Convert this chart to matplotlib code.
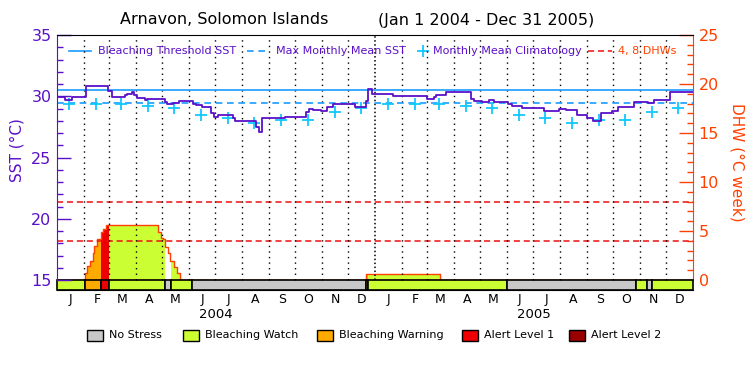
import numpy as np
import matplotlib
matplotlib.use('Agg')
import matplotlib.pyplot as plt
import matplotlib.dates as mdates
from matplotlib.lines import Line2D
from matplotlib.patches import Rectangle

# SST (step changes)
sst_dates = ['2004-01-01', '2004-01-10', '2004-01-18', '2004-02-03', '2004-02-29', '2004-03-04',
             '2004-03-19', '2004-03-22', '2004-03-27', '2004-03-30', '2004-04-02', '2004-04-11', '2004-04-14',
             '2004-05-04', '2004-05-07', '2004-05-13', '2004-05-20', '2004-06-05', '2004-06-09', '2004-06-16',
             '2004-06-26', '2004-06-29', '2004-07-04', '2004-07-21', '2004-07-24', '2004-08-17', '2004-08-20',
             '2004-08-24', '2004-09-04', '2004-09-19', '2004-10-06', '2004-10-13', '2004-10-17', '2004-10-21',
             '2004-10-31', '2004-11-06', '2004-11-13', '2004-12-08', '2004-12-21', '2004-12-23', '2004-12-28',
             '2005-01-21', '2005-03-01', '2005-03-09', '2005-03-12', '2005-03-23', '2005-04-21', '2005-04-24',
             '2005-05-03', '2005-05-12', '2005-05-17', '2005-06-02', '2005-06-07', '2005-06-19', '2005-07-14',
             '2005-07-31', '2005-08-08', '2005-08-21', '2005-09-01', '2005-09-08', '2005-09-17', '2005-09-30',
             '2005-10-07', '2005-10-25', '2005-11-10', '2005-11-17', '2005-12-06', '2006-01-01']
sst_vals = [29.96, 29.7, 29.96, 30.84, 30.4, 29.96,
            30.1, 30.2, 30.32, 30.1, 29.85, 29.7, 29.75,
            29.5, 29.34, 29.47, 29.59, 29.4, 29.3, 29.15,
            28.6, 28.33, 28.47, 28.2, 27.98, 27.5, 27.1,
            28.2, 28.25, 28.33, 28.28, 28.7, 29.0, 28.88,
            28.8, 29.1, 29.34, 29.15, 29.6, 30.57, 30.16,
            30.05, 29.75, 29.9, 30.1, 30.32, 29.8, 29.6,
            29.56, 29.7, 29.5, 29.35, 29.23, 29.07, 28.8,
            28.95, 28.88, 28.47, 28.2, 27.98, 28.6, 28.8,
            29.1, 29.56, 29.45, 29.7, 30.32, 30.32]

# monthly mean climatology (Jan..Dec), same both years
clim_vals = [29.4, 29.35, 29.4, 29.2, 29.05, 28.5, 28.2, 27.8, 28.05, 28.05, 28.75, 29.07]
mmm = 29.45
threshold = 30.5
dhw_levels = [4, 8]

# degree heating weeks
dhw_dates = ['2004-01-01', '2004-02-02', '2004-02-05', '2004-02-08', '2004-02-11', '2004-02-13', '2004-02-16',
             '2004-02-20', '2004-02-23', '2004-02-26', '2004-04-26', '2004-04-29', '2004-05-02', '2004-05-04',
             '2004-05-08', '2004-05-10', '2004-05-15', '2004-05-18', '2004-05-21', '2004-12-21', '2005-03-16']
dhw_vals = [0, 0.75, 1.46, 1.97, 2.72, 3.47, 4.15,
            4.86, 5.17, 5.61, 4.86, 4.3, 4.15, 3.4,
            2.72, 1.97, 1.36, 0.75, 0, 0.58, 0]

# stress level: 0 no stress, 1 watch, 2 warning, 3 alert 1, 4 alert 2
stress_dates = ['2004-01-01', '2004-02-02', '2004-02-20', '2004-03-01', '2004-05-04', '2004-05-11', '2004-06-04',
                '2004-12-21', '2004-12-24', '2005-06-01', '2005-10-27', '2005-11-09', '2005-11-15']
stress_levels = [1, 2, 3, 1, 0, 1, 0, 2, 1, 0, 1, 0, 1]
stress_names = ['No Stress', 'Bleaching Watch', 'Bleaching Warning', 'Alert Level 1', 'Alert Level 2']
bar_colors = ['#c8c8c8', '#ccff33', '#ffaa00', '#ee0000', '#990000']
area_colors = ['#ffffff', '#ccff33', '#ffaa00', '#ee0000', '#990000']

month_letters = ['J', 'F', 'M', 'A', 'M', 'J', 'J', 'A', 'S', 'O', 'N', 'D'] * 2

purple = '#5a10c8'
orange = '#ff4000'
blue = '#1a9cff'
cyan = '#10c8ff'
red = '#ee1010'


def dn(d):
    return mdates.date2num(np.array(d, dtype='datetime64[D]'))


def px(x, y):
    return x / 750, 1 - y / 375


x0, x1 = dn('2004-01-01'), dn('2006-01-01')
sst_bottom = 35 - 255 / 12.25
dhw_bottom = (sst_bottom - 15) / 0.8

fig = plt.figure(figsize=(7.5, 3.75), dpi=100)
ax = fig.add_axes([57 / 750, 1 - 290 / 375, 636 / 750, 255 / 375])
ax2 = ax.twinx()
ax.set_zorder(2)
ax.patch.set_visible(False)

# ---- DHW area and stress bar (right axis) ----
dhw_x = dn(dhw_dates)
st_x = dn(stress_dates)
brk = np.unique(np.concatenate([dhw_x, st_x, [x1]]))
v = np.array(dhw_vals)[np.searchsorted(dhw_x, brk, side='right') - 1]
lev = np.array(stress_levels)[np.searchsorted(st_x, brk, side='right') - 1]
for k, col in enumerate(area_colors):
    m = lev == k
    m_ext = m | np.r_[False, m[:-1]]
    if m.any():
        ax2.fill_between(brk, 0, v, where=m_ext, step='post', facecolor=col, lw=0, zorder=1)
ax2.fill_between(brk, 0, v, step='post', facecolor='none', edgecolor=orange, lw=1.0, zorder=2)
for d in dhw_levels:
    ax2.axhline(d, color=red, lw=1.1, dashes=(4, 2.5), zorder=3)
st_edges = np.r_[st_x, x1]
ax2.bar(st_x, -dhw_bottom, width=np.diff(st_edges), bottom=dhw_bottom, align='edge',
        color=[bar_colors[k] for k in stress_levels], edgecolor='k', lw=1.2, zorder=4, clip_on=False)
ax2.set_ylim(dhw_bottom, 25)
ax2.set_yticks(np.arange(0, 26, 5))
ax2.set_yticks(np.arange(0, 26, 1), minor=True)
ax2.tick_params(axis='y', which='both', direction='in', colors=orange, labelsize=11.5, pad=4)
ax2.tick_params(axis='y', which='major', length=10, width=1)
ax2.tick_params(axis='y', which='minor', length=4.5, width=1)
for s in ['left', 'top', 'bottom']:
    ax2.spines[s].set_visible(False)
ax2.spines['right'].set_bounds(0, 25)
ax2.spines['right'].set_color(orange)

# ---- SST (left axis) ----
month_starts = dn(np.arange('2004-02', '2006-01', dtype='datetime64[M]').astype('datetime64[D]'))
for m in month_starts:
    if m == dn('2005-01-01'):
        ax.vlines(m, 15, 35, colors='k', lw=1.1, linestyles=(0, (1, 1.6)), zorder=1)
    else:
        ax.vlines(m, 15, 35, colors='k', lw=1.0, linestyles=(0, (1, 3)), zorder=1)
ax.axhline(threshold, color=blue, lw=1.2, zorder=2)
ax.axhline(mmm, color=blue, lw=1.2, dashes=(4, 2.8), zorder=2)
clim_x = dn(np.arange('2004-01', '2006-01', dtype='datetime64[M]').astype('datetime64[D]')) + 14
ax.plot(clim_x, clim_vals * 2, ls='none', marker='+', ms=8, mew=1.3, color=cyan, zorder=3)
ax.step(dn(sst_dates), sst_vals, where='post', color=purple, lw=1.3, zorder=4)

ax.set_xlim(x0, x1)
ax.set_ylim(sst_bottom, 35)
ax.set_yticks(np.arange(15, 36, 5))
ax.set_yticks(np.arange(15, 36, 1), minor=True)
ax.tick_params(axis='y', which='both', direction='in', colors=purple, labelsize=11.5, pad=4)
ax.tick_params(axis='y', which='major', length=10, width=1)
ax.tick_params(axis='y', which='minor', length=4.5, width=1)
ax.spines['left'].set_bounds(15, 35)
ax.spines['left'].set_color(purple)
ax.spines['right'].set_visible(False)

mid_months = dn(np.arange('2004-01', '2006-01', dtype='datetime64[M]').astype('datetime64[D]')) + 15
ax.set_xticks(mid_months)
ax.set_xticklabels(month_letters)
ax.tick_params(axis='x', length=0, pad=2.5, labelsize=9)
for yr, mid in [('2004', '2004-07-02'), ('2005', '2005-07-02')]:
    ax.annotate(yr, xy=(dn(mid), 0), xycoords=('data', 'axes fraction'), xytext=(0, -18),
                textcoords='offset points', ha='center', va='center', fontsize=9.5)

# ---- titles and labels ----
fig.text(*px(120, 20), 'Arnavon, Solomon Islands', ha='left', va='center', fontsize=11.5)
fig.text(*px(378, 20), '(Jan 1 2004 - Dec 31 2005)', ha='left', va='center', fontsize=11.5)
fig.text(*px(17, 150), 'SST (°C)', rotation=90, ha='center', va='center', fontsize=11, color=purple)
fig.text(*px(737, 162), 'DHW (°C week)', rotation=-90, ha='center', va='center', fontsize=11, color=orange)

# ---- legend inside top ----
ly = px(0, 51)[1]
fig.add_artist(Line2D([69 / 750, 91 / 750], [ly, ly], color=blue, lw=1.2))
fig.text(98 / 750, ly, 'Bleaching Threshold SST', va='center', fontsize=8, color=purple)
fig.add_artist(Line2D([247 / 750, 265 / 750], [ly, ly], color=blue, lw=1.2, dashes=(4, 2.8)))
fig.text(276 / 750, ly, 'Max Monthly Mean SST', va='center', fontsize=8, color=purple)
fig.add_artist(Line2D([423 / 750], [ly], color=cyan, marker='+', ms=8, mew=1.3))
fig.text(433 / 750, ly, 'Monthly Mean Climatology', va='center', fontsize=8, color=purple)
fig.add_artist(Line2D([588 / 750, 612 / 750], [ly, ly], color=red, lw=1.1, dashes=(4, 2.5)))
fig.text(618 / 750, ly, '4, 8 DHWs', va='center', fontsize=8, color=orange)

# ---- stress legend at bottom ----
box_x = [87, 183, 317, 462, 569]
for bx, name, col in zip(box_x, stress_names, bar_colors):
    fig.add_artist(Rectangle(px(bx, 340.5), 16 / 750, 11 / 375, transform=fig.transFigure,
                             facecolor=col, edgecolor='k', lw=1.0))
    fig.text(*px(bx + 22, 335), name, va='center', fontsize=8)

plt.savefig('out.png', dpi=100)
